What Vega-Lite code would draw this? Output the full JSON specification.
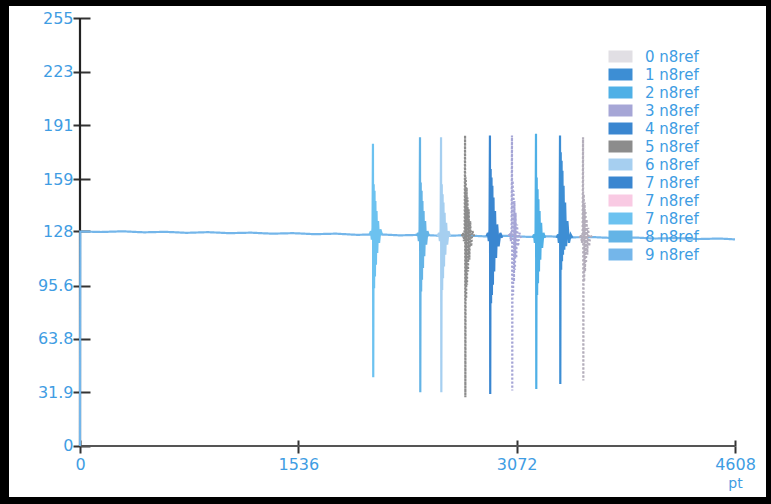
{
  "$schema": "https://vega.github.io/schema/vega-lite/v6.json",
  "width": 757,
  "height": 491,
  "autosize": {"type": "none"},
  "padding": {"left": 9, "top": 6, "right": 5, "bottom": 7},
  "background": "black",
  "config": {
    "view": {"fill": "white", "stroke": null},
    "axis": {"grid": false, "domain": false, "labelFont": "DejaVu Sans", "labelColor": "#3f9de3", "labelFontSize": 16, "tickColor": "#333333", "tickWidth": 2, "titleFont": "DejaVu Sans"}
  },
  "resolve": {"scale": {"x": "independent", "y": "independent"}, "axis": {"x": "independent", "y": "independent"}},
  "layer": [
    {
      "data": {"values": [{"x": 0, "y": 0, "y2": 255}]},
      "mark": {"type": "rule", "color": "#222222", "strokeWidth": 2.2},
      "encoding": {
        "x": {"field": "x", "type": "quantitative", "scale": {"domain": [-499.5, 4826.1], "nice": false, "zero": false}, "axis": null},
        "y": {"field": "y", "type": "quantitative", "scale": {"domain": [-30.4, 262.15], "nice": false, "zero": false},
              "axis": {"orient": "right", "offset": -686, "values": [0, 31.9, 63.8, 95.6, 128, 159, 191, 223, 255], "labels": true, "labelOpacity": 0, "tickColor": "#333333", "tickSize": 10, "title": null}},
        "y2": {"field": "y2"}
      }
    },
    {
      "data": {"values": [{"x": 0, "x2": 4608, "y": 0}]},
      "mark": {"type": "rule", "color": "#555555", "strokeWidth": 2},
      "encoding": {
        "x": {"field": "x", "type": "quantitative", "scale": {"domain": [-499.5, 4826.1], "nice": false, "zero": false},
              "axis": {"orient": "top", "offset": -440, "values": [0, 1536, 3072, 4608], "labels": true, "labelOpacity": 0, "tickColor": "#333333", "tickSize": 6, "title": null}},
        "x2": {"field": "x2"},
        "y": {"field": "y", "type": "quantitative", "scale": {"domain": [-30.4, 262.15], "nice": false, "zero": false}, "axis": null}
      }
    },
    {
      "data": {"values": [
        {"s": "9 n8ref", "x": 0, "y": 0}, {"s": "9 n8ref", "x": 2, "y": 127.8}, {"s": "9 n8ref", "x": 150, "y": 127.5}, {"s": "9 n8ref", "x": 300, "y": 127.9}, {"s": "9 n8ref", "x": 450, "y": 127.3}, {"s": "9 n8ref", "x": 600, "y": 127.6}, {"s": "9 n8ref", "x": 750, "y": 127.0}, {"s": "9 n8ref", "x": 900, "y": 127.4}, {"s": "9 n8ref", "x": 1050, "y": 126.8}, {"s": "9 n8ref", "x": 1200, "y": 127.1}, {"s": "9 n8ref", "x": 1350, "y": 126.5}, {"s": "9 n8ref", "x": 1500, "y": 126.8}, {"s": "9 n8ref", "x": 1650, "y": 126.2}, {"s": "9 n8ref", "x": 1800, "y": 126.5}, {"s": "9 n8ref", "x": 1950, "y": 125.8}, {"s": "9 n8ref", "x": 2100, "y": 126.1}, {"s": "9 n8ref", "x": 2250, "y": 125.5}, {"s": "9 n8ref", "x": 2400, "y": 125.8}, {"s": "9 n8ref", "x": 2550, "y": 125.2}, {"s": "9 n8ref", "x": 2700, "y": 125.5}, {"s": "9 n8ref", "x": 2850, "y": 124.9}, {"s": "9 n8ref", "x": 3000, "y": 125.2}, {"s": "9 n8ref", "x": 3150, "y": 124.6}, {"s": "9 n8ref", "x": 3300, "y": 124.9}, {"s": "9 n8ref", "x": 3450, "y": 124.3}, {"s": "9 n8ref", "x": 3600, "y": 124.5}, {"s": "9 n8ref", "x": 3750, "y": 123.9}, {"s": "9 n8ref", "x": 3900, "y": 124.2}, {"s": "9 n8ref", "x": 4050, "y": 123.6}, {"s": "9 n8ref", "x": 4200, "y": 123.9}, {"s": "9 n8ref", "x": 4350, "y": 123.3}, {"s": "9 n8ref", "x": 4500, "y": 123.6}, {"s": "9 n8ref", "x": 4608, "y": 123.1},

        {"s": "7c n8ref", "x": 2037, "y": 126}, {"s": "7c n8ref", "x": 2047, "y": 128}, {"s": "7c n8ref", "x": 2053, "y": 123}, {"s": "7c n8ref", "x": 2058, "y": 130}, {"s": "7c n8ref", "x": 2061, "y": 180}, {"s": "7c n8ref", "x": 2063, "y": 41}, {"s": "7c n8ref", "x": 2066, "y": 156}, {"s": "7c n8ref", "x": 2069, "y": 94}, {"s": "7c n8ref", "x": 2072, "y": 152}, {"s": "7c n8ref", "x": 2075, "y": 101}, {"s": "7c n8ref", "x": 2078, "y": 146}, {"s": "7c n8ref", "x": 2082, "y": 108}, {"s": "7c n8ref", "x": 2086, "y": 140}, {"s": "7c n8ref", "x": 2091, "y": 115}, {"s": "7c n8ref", "x": 2097, "y": 134}, {"s": "7c n8ref", "x": 2104, "y": 121}, {"s": "7c n8ref", "x": 2113, "y": 129}, {"s": "7c n8ref", "x": 2125, "y": 126},

        {"s": "8 n8ref", "x": 2368, "y": 125}, {"s": "8 n8ref", "x": 2378, "y": 127}, {"s": "8 n8ref", "x": 2384, "y": 122}, {"s": "8 n8ref", "x": 2389, "y": 129}, {"s": "8 n8ref", "x": 2392, "y": 184}, {"s": "8 n8ref", "x": 2394, "y": 32}, {"s": "8 n8ref", "x": 2397, "y": 157}, {"s": "8 n8ref", "x": 2400, "y": 92}, {"s": "8 n8ref", "x": 2403, "y": 152}, {"s": "8 n8ref", "x": 2406, "y": 99}, {"s": "8 n8ref", "x": 2409, "y": 146}, {"s": "8 n8ref", "x": 2413, "y": 106}, {"s": "8 n8ref", "x": 2417, "y": 140}, {"s": "8 n8ref", "x": 2422, "y": 113}, {"s": "8 n8ref", "x": 2428, "y": 134}, {"s": "8 n8ref", "x": 2435, "y": 120}, {"s": "8 n8ref", "x": 2444, "y": 128}, {"s": "8 n8ref", "x": 2456, "y": 125},

        {"s": "6 n8ref", "x": 2516, "y": 125}, {"s": "6 n8ref", "x": 2526, "y": 127}, {"s": "6 n8ref", "x": 2532, "y": 122}, {"s": "6 n8ref", "x": 2537, "y": 129}, {"s": "6 n8ref", "x": 2540, "y": 184}, {"s": "6 n8ref", "x": 2542, "y": 32}, {"s": "6 n8ref", "x": 2545, "y": 156}, {"s": "6 n8ref", "x": 2548, "y": 93}, {"s": "6 n8ref", "x": 2551, "y": 150}, {"s": "6 n8ref", "x": 2554, "y": 100}, {"s": "6 n8ref", "x": 2557, "y": 145}, {"s": "6 n8ref", "x": 2561, "y": 107}, {"s": "6 n8ref", "x": 2565, "y": 139}, {"s": "6 n8ref", "x": 2570, "y": 114}, {"s": "6 n8ref", "x": 2576, "y": 133}, {"s": "6 n8ref", "x": 2583, "y": 120}, {"s": "6 n8ref", "x": 2592, "y": 128}, {"s": "6 n8ref", "x": 2604, "y": 125},

        {"s": "5 n8ref", "x": 2685, "y": 125}, {"s": "5 n8ref", "x": 2695, "y": 127}, {"s": "5 n8ref", "x": 2701, "y": 122}, {"s": "5 n8ref", "x": 2706, "y": 129}, {"s": "5 n8ref", "x": 2709, "y": 185}, {"s": "5 n8ref", "x": 2711, "y": 29}, {"s": "5 n8ref", "x": 2714, "y": 160}, {"s": "5 n8ref", "x": 2717, "y": 88}, {"s": "5 n8ref", "x": 2720, "y": 154}, {"s": "5 n8ref", "x": 2723, "y": 96}, {"s": "5 n8ref", "x": 2726, "y": 148}, {"s": "5 n8ref", "x": 2730, "y": 104}, {"s": "5 n8ref", "x": 2734, "y": 141}, {"s": "5 n8ref", "x": 2739, "y": 111}, {"s": "5 n8ref", "x": 2745, "y": 134}, {"s": "5 n8ref", "x": 2752, "y": 119}, {"s": "5 n8ref", "x": 2761, "y": 128}, {"s": "5 n8ref", "x": 2773, "y": 125},

        {"s": "4 n8ref", "x": 2860, "y": 125}, {"s": "4 n8ref", "x": 2870, "y": 127}, {"s": "4 n8ref", "x": 2876, "y": 122}, {"s": "4 n8ref", "x": 2881, "y": 129}, {"s": "4 n8ref", "x": 2884, "y": 185}, {"s": "4 n8ref", "x": 2886, "y": 31}, {"s": "4 n8ref", "x": 2889, "y": 165}, {"s": "4 n8ref", "x": 2892, "y": 85}, {"s": "4 n8ref", "x": 2895, "y": 160}, {"s": "4 n8ref", "x": 2898, "y": 90}, {"s": "4 n8ref", "x": 2901, "y": 155}, {"s": "4 n8ref", "x": 2905, "y": 96}, {"s": "4 n8ref", "x": 2909, "y": 148}, {"s": "4 n8ref", "x": 2914, "y": 104}, {"s": "4 n8ref", "x": 2920, "y": 140}, {"s": "4 n8ref", "x": 2927, "y": 112}, {"s": "4 n8ref", "x": 2935, "y": 132}, {"s": "4 n8ref", "x": 2945, "y": 119}, {"s": "4 n8ref", "x": 2957, "y": 127}, {"s": "4 n8ref", "x": 2970, "y": 124},

        {"s": "3 n8ref", "x": 3015, "y": 125}, {"s": "3 n8ref", "x": 3025, "y": 127}, {"s": "3 n8ref", "x": 3031, "y": 122}, {"s": "3 n8ref", "x": 3036, "y": 129}, {"s": "3 n8ref", "x": 3039, "y": 185}, {"s": "3 n8ref", "x": 3041, "y": 33}, {"s": "3 n8ref", "x": 3044, "y": 158}, {"s": "3 n8ref", "x": 3047, "y": 90}, {"s": "3 n8ref", "x": 3050, "y": 152}, {"s": "3 n8ref", "x": 3053, "y": 98}, {"s": "3 n8ref", "x": 3056, "y": 146}, {"s": "3 n8ref", "x": 3060, "y": 105}, {"s": "3 n8ref", "x": 3064, "y": 139}, {"s": "3 n8ref", "x": 3069, "y": 112}, {"s": "3 n8ref", "x": 3075, "y": 132}, {"s": "3 n8ref", "x": 3082, "y": 119}, {"s": "3 n8ref", "x": 3091, "y": 127}, {"s": "3 n8ref", "x": 3103, "y": 124},

        {"s": "2 n8ref", "x": 3184, "y": 124}, {"s": "2 n8ref", "x": 3194, "y": 126}, {"s": "2 n8ref", "x": 3200, "y": 121}, {"s": "2 n8ref", "x": 3205, "y": 128}, {"s": "2 n8ref", "x": 3208, "y": 186}, {"s": "2 n8ref", "x": 3210, "y": 34}, {"s": "2 n8ref", "x": 3213, "y": 160}, {"s": "2 n8ref", "x": 3216, "y": 90}, {"s": "2 n8ref", "x": 3219, "y": 153}, {"s": "2 n8ref", "x": 3222, "y": 97}, {"s": "2 n8ref", "x": 3225, "y": 147}, {"s": "2 n8ref", "x": 3229, "y": 104}, {"s": "2 n8ref", "x": 3233, "y": 140}, {"s": "2 n8ref", "x": 3238, "y": 111}, {"s": "2 n8ref", "x": 3244, "y": 133}, {"s": "2 n8ref", "x": 3251, "y": 118}, {"s": "2 n8ref", "x": 3260, "y": 127}, {"s": "2 n8ref", "x": 3272, "y": 124},

        {"s": "1 n8ref", "x": 3353, "y": 124}, {"s": "1 n8ref", "x": 3363, "y": 126}, {"s": "1 n8ref", "x": 3369, "y": 121}, {"s": "1 n8ref", "x": 3374, "y": 128}, {"s": "1 n8ref", "x": 3377, "y": 185}, {"s": "1 n8ref", "x": 3379, "y": 37}, {"s": "1 n8ref", "x": 3382, "y": 175}, {"s": "1 n8ref", "x": 3385, "y": 105}, {"s": "1 n8ref", "x": 3388, "y": 170}, {"s": "1 n8ref", "x": 3391, "y": 110}, {"s": "1 n8ref", "x": 3394, "y": 164}, {"s": "1 n8ref", "x": 3398, "y": 114}, {"s": "1 n8ref", "x": 3402, "y": 155}, {"s": "1 n8ref", "x": 3407, "y": 117}, {"s": "1 n8ref", "x": 3413, "y": 145}, {"s": "1 n8ref", "x": 3420, "y": 119}, {"s": "1 n8ref", "x": 3429, "y": 134}, {"s": "1 n8ref", "x": 3440, "y": 121}, {"s": "1 n8ref", "x": 3452, "y": 126}, {"s": "1 n8ref", "x": 3465, "y": 124},

        {"s": "0 n8ref", "x": 3515, "y": 124}, {"s": "0 n8ref", "x": 3525, "y": 126}, {"s": "0 n8ref", "x": 3531, "y": 121}, {"s": "0 n8ref", "x": 3536, "y": 128}, {"s": "0 n8ref", "x": 3539, "y": 184}, {"s": "0 n8ref", "x": 3541, "y": 39}, {"s": "0 n8ref", "x": 3544, "y": 150}, {"s": "0 n8ref", "x": 3547, "y": 98}, {"s": "0 n8ref", "x": 3550, "y": 145}, {"s": "0 n8ref", "x": 3553, "y": 104}, {"s": "0 n8ref", "x": 3556, "y": 140}, {"s": "0 n8ref", "x": 3560, "y": 109}, {"s": "0 n8ref", "x": 3564, "y": 135}, {"s": "0 n8ref", "x": 3569, "y": 114}, {"s": "0 n8ref", "x": 3575, "y": 130}, {"s": "0 n8ref", "x": 3582, "y": 119}, {"s": "0 n8ref", "x": 3591, "y": 126}, {"s": "0 n8ref", "x": 3603, "y": 124}
      ]},
      "mark": {"type": "line", "strokeWidth": 2.2},
      "encoding": {
        "x": {"field": "x", "type": "quantitative", "scale": {"domain": [-499.5, 4826.1], "nice": false, "zero": false},
              "axis": {"orient": "bottom", "offset": -51, "values": [0, 1536, 3072, 4608], "labelExpr": "datum.value + ''", "tickSize": 7, "labelPadding": 3, "title": "pt", "titleX": 726, "titleY": 37, "titleAlign": "center", "titleBaseline": "middle", "titleColor": "#3f9de3", "titleFontSize": 14, "titleFontWeight": "normal"}},
        "y": {"field": "y", "type": "quantitative", "scale": {"domain": [-30.4, 262.15], "nice": false, "zero": false},
              "axis": {"orient": "left", "offset": -71, "values": [0, 31.9, 63.8, 95.6, 128, 159, 191, 223, 255], "labelExpr": "datum.value + ''", "tickSize": 7, "labelPadding": 0, "title": null}},
        "color": {"field": "s", "type": "nominal",
          "scale": {"domain": ["0 n8ref", "1 n8ref", "2 n8ref", "3 n8ref", "4 n8ref", "5 n8ref", "6 n8ref", "7a n8ref", "7b n8ref", "7c n8ref", "8 n8ref", "9 n8ref"],
                    "range": ["#b4aebb", "#3d8ed4", "#4fb0e6", "#a6a6d6", "#3a86d0", "#8c8c8c", "#a6cff0", "#3a86d0", "#f07ab8", "#6cc2f0", "#64b4e6", "#74b6ea"]},
          "legend": {"orient": "none", "legendX": 604, "legendY": 43, "title": null, "padding": 0,
                     "symbolType": "M-2,-1H2V1H-2Z", "symbolSize": 144, "symbolStrokeWidth": 0,
                     "labelOffset": 17, "labelFont": "DejaVu Sans", "labelFontSize": 15, "labelColor": "#3f9de3", "rowPadding": 2,
                     "labelExpr": "substring(datum.label, 0, 1) + ' n8ref'",
                     "encode": {"symbols": {"update": {"fill": {"scale": "color", "field": "value"}, "fillOpacity": {"signal": "datum.value === '0 n8ref' || datum.value === '7b n8ref' ? 0.4 : 1"}}}}}},
        "strokeDash": {"field": "s", "type": "nominal", "legend": null,
          "scale": {"domain": ["0 n8ref", "1 n8ref", "2 n8ref", "3 n8ref", "4 n8ref", "5 n8ref", "6 n8ref", "7a n8ref", "7b n8ref", "7c n8ref", "8 n8ref", "9 n8ref"],
                    "range": [[2, 2], [1, 0], [1, 0], [2, 2], [1, 0], [2, 1.5], [1, 0], [1, 0], [1, 0], [1, 0], [1, 0], [1, 0]]}}
      }
    }
  ]
}
